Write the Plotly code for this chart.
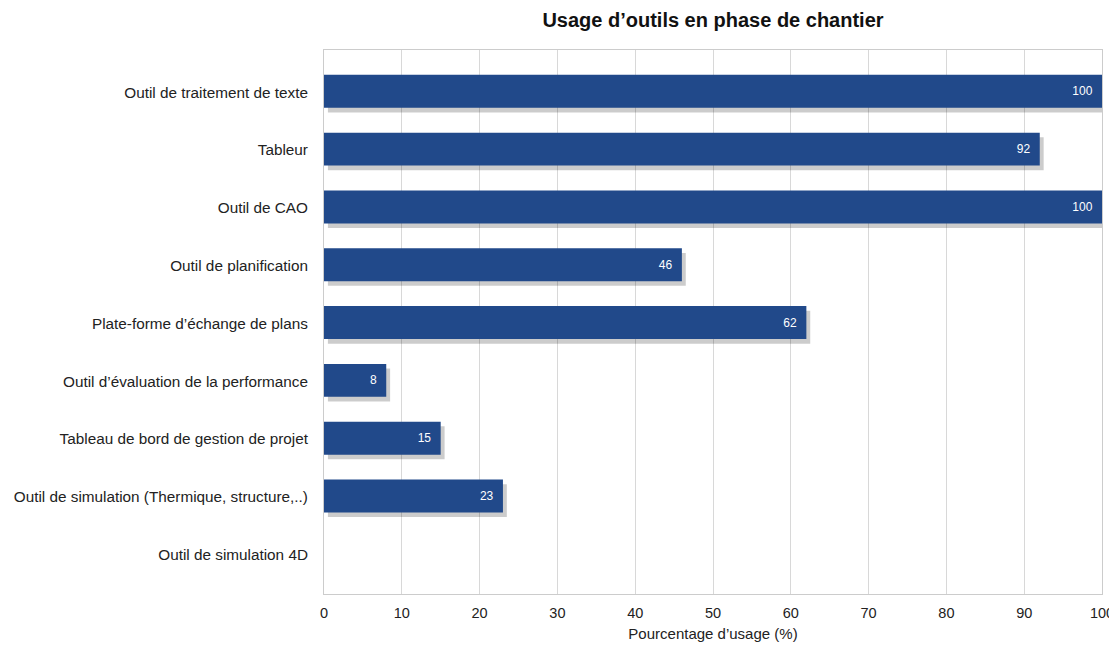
import plotly.graph_objects as go

categories = [
    "Outil de traitement de texte",
    "Tableur",
    "Outil de CAO",
    "Outil de planification",
    "Plate-forme d\u2019\u00e9change de plans",
    "Outil d\u2019\u00e9valuation de la performance",
    "Tableau de bord de gestion de projet",
    "Outil de simulation (Thermique, structure,..)",
    "Outil de simulation 4D",
]
values = [100, 92, 100, 46, 62, 8, 15, 23, 0]
labels = [(str(v) + "\u00a0\u00a0") if v > 0 else "" for v in values]
tick_vals = list(range(0, 101, 10))

bar_color = "#21498a"
FONT = "Liberation Sans, Arial, sans-serif"

fig = go.Figure()
# soft shadow behind bars
fig.add_trace(go.Bar(
    y=categories, x=values, orientation="h",
    base=[0.5 if v > 0 else 0 for v in values],
    width=0.57, offset=-0.22,
    marker=dict(color="rgba(0,0,0,0.2)", line=dict(width=0)),
    hoverinfo="skip", showlegend=False,
))
fig.add_trace(go.Bar(
    y=categories, x=values, orientation="h",
    width=0.57, offset=-0.3,
    marker=dict(color=bar_color, line=dict(width=0)),
    text=labels, textposition="inside", insidetextanchor="end",
    textfont=dict(color="white", size=12, family=FONT),
    showlegend=False,
))

fig.update_layout(
    width=1109, height=642,
    barmode="overlay",
    margin=dict(l=316, r=15, t=42, b=56, autoexpand=False),
    plot_bgcolor="white", paper_bgcolor="white",
    font=dict(family=FONT, size=15, color="#222222"),
    title=dict(text="<b>Usage d\u2019outils en phase de chantier</b>",
               x=0.6357, xanchor="center", y=0.981, yanchor="middle",
               font=dict(size=20, color="#111111")),
    xaxis=dict(range=[0, 100], tickvals=tick_vals, showgrid=True,
               gridcolor="#d8d8d8", gridwidth=1, zeroline=False,
               showline=True, linecolor="#cccccc", mirror=True,
               ticks="", ticklabelstandoff=6, automargin=False,
               tickfont=dict(size=14.5),
               title=dict(text="Pourcentage d\u2019usage (%)", standoff=8,
                          font=dict(size=15))),
    yaxis=dict(type="category", range=[8.68, -0.73], showgrid=False,
               showline=True, linecolor="#cccccc", mirror=True,
               ticks="", ticklabelstandoff=12, zeroline=False,
               automargin=False, tickfont=dict(size=15.3)),
)

fig.write_html("out.html")
